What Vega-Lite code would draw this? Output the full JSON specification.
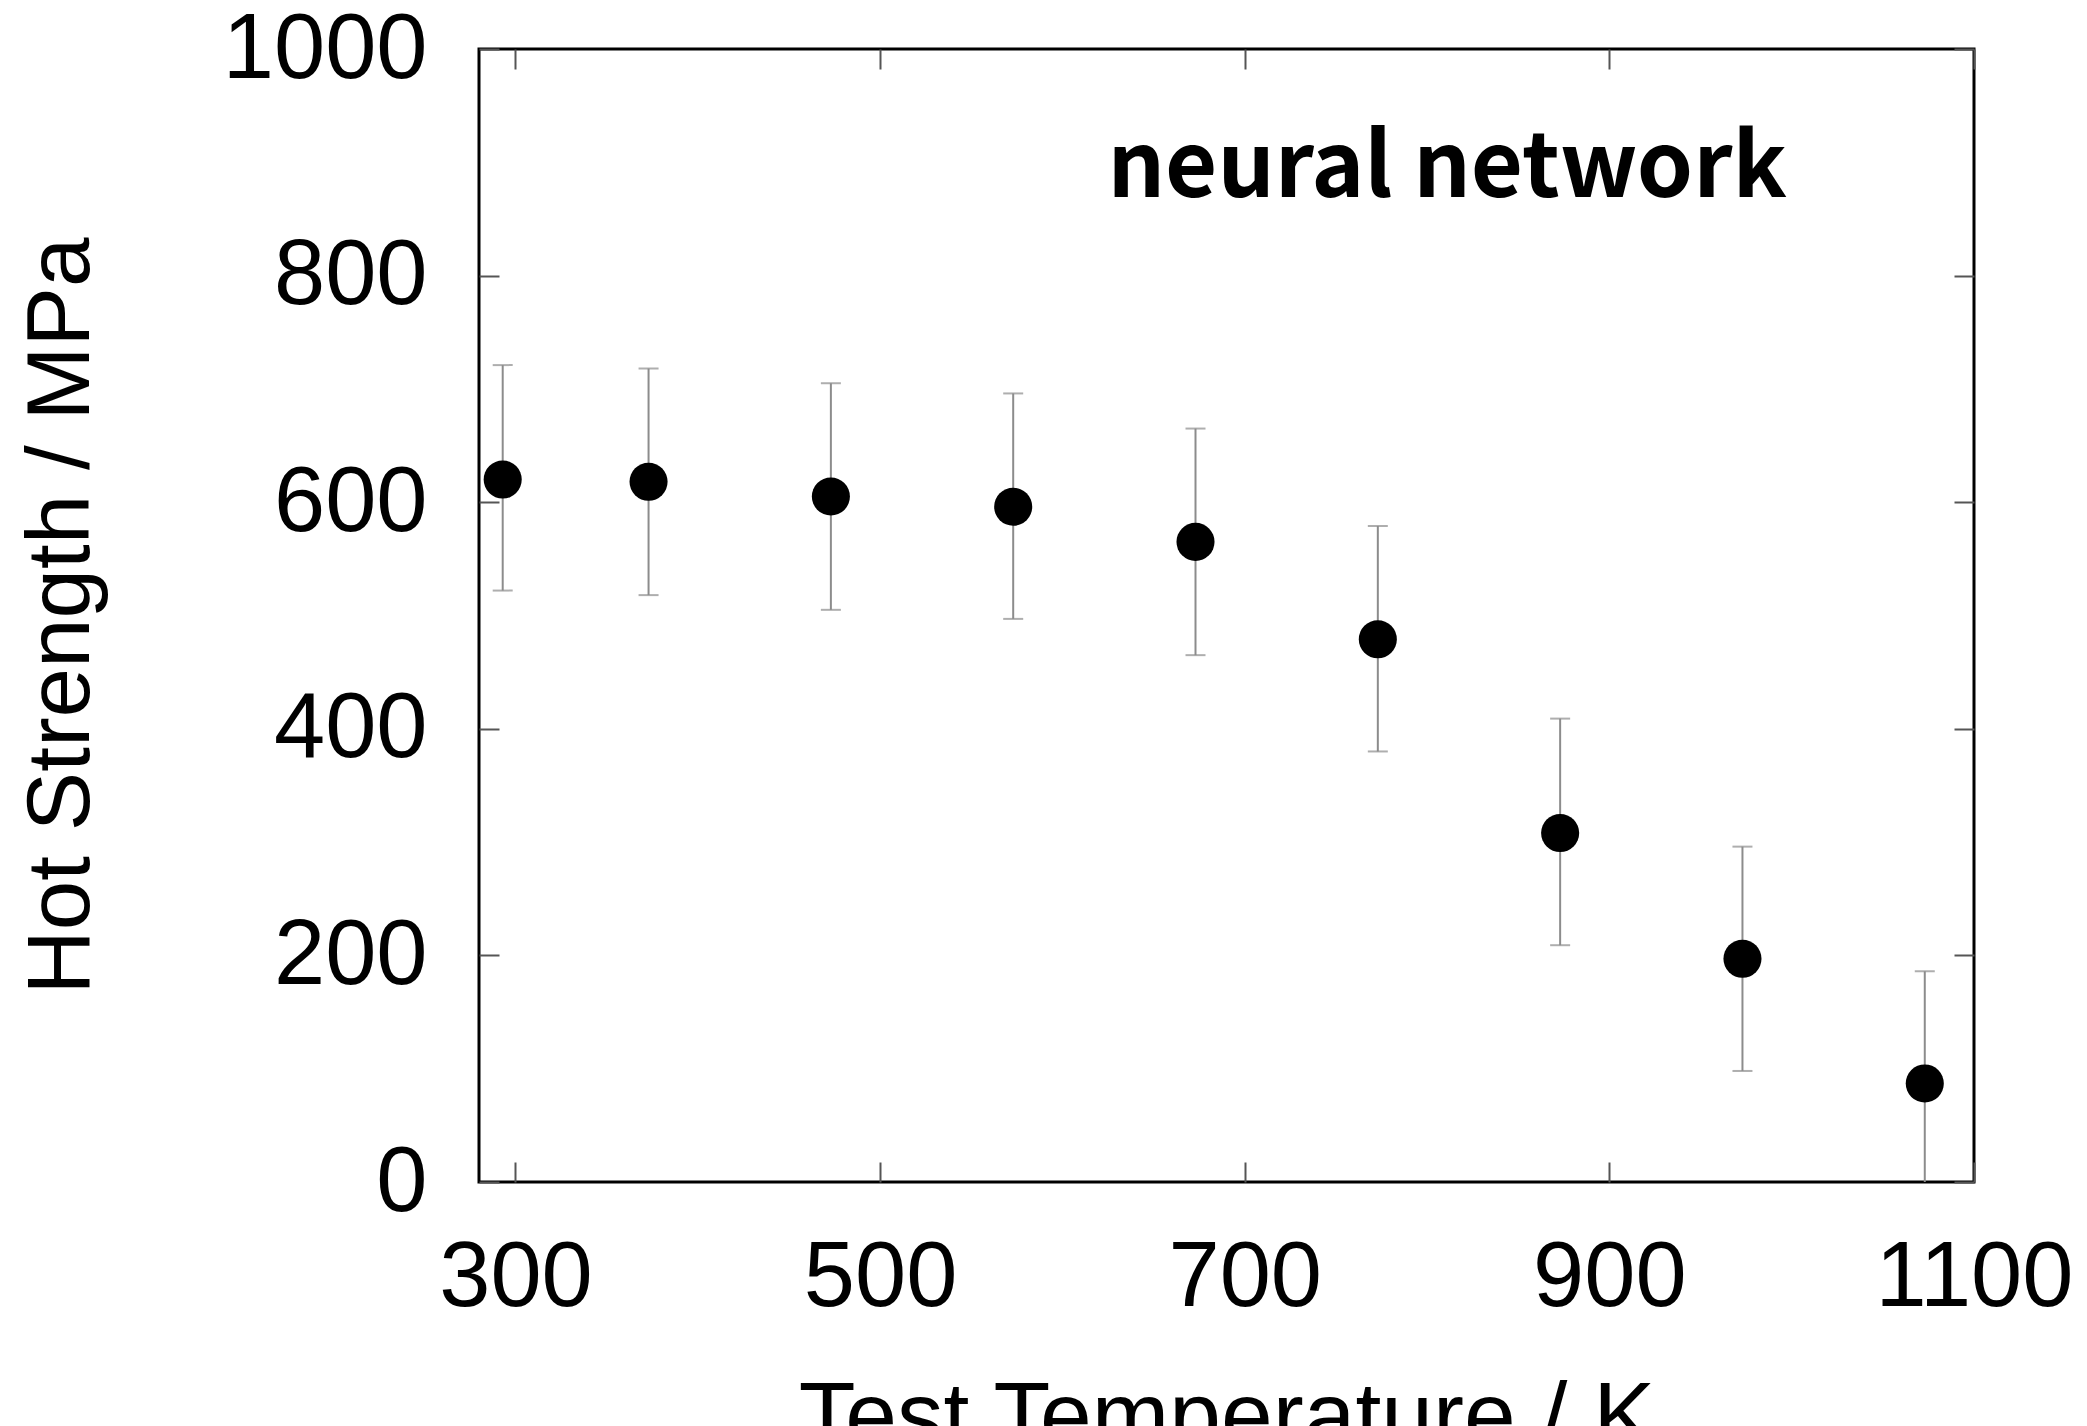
{
  "$schema": "https://vega.github.io/schema/vega-lite/v6.json",
  "width": 1495,
  "height": 1133,
  "autosize": {"type": "none"},
  "padding": {"left": 479, "top": 49, "right": 113, "bottom": 244},
  "background": "white",
  "config": {
    "view": {"stroke": "black", "strokeWidth": 3},
    "font": "Liberation Sans"
  },
  "data": {
    "values": [
      {"T": 293, "S": 620, "lo": 522, "hi": 721},
      {"T": 373, "S": 618, "lo": 518, "hi": 718},
      {"T": 473, "S": 605, "lo": 505, "hi": 705},
      {"T": 573, "S": 596, "lo": 497, "hi": 696},
      {"T": 673, "S": 565, "lo": 465, "hi": 665},
      {"T": 773, "S": 479, "lo": 380, "hi": 579},
      {"T": 873, "S": 308, "lo": 209, "hi": 409},
      {"T": 973, "S": 197, "lo": 98, "hi": 296},
      {"T": 1073, "S": 87, "lo": -13, "hi": 186}
    ]
  },
  "layer": [
    {
      "mark": {"type": "rule", "color": "#8c8c8c", "strokeWidth": 2, "clip": true},
      "encoding": {
        "x": {"field": "T", "type": "quantitative", "scale": {"domain": [280, 1100], "nice": false, "zero": false},
          "axis": {"title": "Test Temperature / K", "values": [300, 500, 700, 900, 1100], "format": "d", "labelLimit": 0, "domain": false, "grid": false,
            "tickSize": -20, "tickColor": "#555555", "tickWidth": 2, "labelFontSize": 92, "labelColor": "black", "labelPadding": 70,
            "titleFontSize": 93, "titleFontWeight": "normal", "titleColor": "black", "titlePadding": 50, "labelFlush": false}},
        "y": {"field": "lo", "type": "quantitative", "scale": {"domain": [0, 1000], "nice": false},
          "axis": {"title": "Hot Strength / MPa", "values": [0, 200, 400, 600, 800, 1000], "format": "d", "labelLimit": 0, "domain": false, "grid": false,
            "tickSize": -20, "tickColor": "#555555", "tickWidth": 2, "labelFontSize": 92, "labelColor": "black", "labelPadding": 72,
            "titleFontSize": 89, "titleFontWeight": "normal", "titleColor": "black", "titlePadding": 172, "labelFlush": false}},
        "y2": {"field": "hi"}
      }
    },
    {
      "mark": {"type": "tick", "color": "#8c8c8c", "thickness": 2, "size": 20, "orient": "horizontal", "clip": true},
      "encoding": {
        "x": {"field": "T", "type": "quantitative", "axis": null},
        "y": {"field": "hi", "type": "quantitative", "axis": null}
      }
    },
    {
      "mark": {"type": "tick", "color": "#8c8c8c", "thickness": 2, "size": 20, "orient": "horizontal", "clip": true},
      "encoding": {
        "x": {"field": "T", "type": "quantitative", "axis": null},
        "y": {"field": "lo", "type": "quantitative", "axis": null}
      }
    },
    {
      "mark": {"type": "point", "filled": true, "color": "black", "opacity": 1, "size": 1450, "shape": "circle"},
      "encoding": {
        "x": {"field": "T", "type": "quantitative", "axis": null},
        "y": {"field": "S", "type": "quantitative", "axis": null}
      }
    },
    {
      "data": {"values": [{"T": 811, "S": 869, "label": "neural network"}]},
      "mark": {"type": "text", "fontSize": 90, "fontWeight": "bold", "font": "Noto Sans CJK JP", "align": "center", "baseline": "alphabetic", "color": "black"},
      "encoding": {
        "x": {"field": "T", "type": "quantitative", "axis": null},
        "y": {"field": "S", "type": "quantitative", "axis": null},
        "text": {"field": "label"}
      }
    },
    {
      "mark": {"type": "point", "opacity": 0},
      "encoding": {
        "x": {"field": "T", "type": "quantitative",
          "axis": {"orient": "top", "title": null, "labels": false, "values": [300, 500, 700, 900, 1100], "domain": false, "grid": false, "tickSize": -20, "tickColor": "#555555", "tickWidth": 2}},
        "y": {"field": "S", "type": "quantitative",
          "axis": {"orient": "right", "title": null, "labels": false, "values": [0, 200, 400, 600, 800, 1000], "domain": false, "grid": false, "tickSize": -20, "tickColor": "#555555", "tickWidth": 2}}
      }
    }
  ],
  "resolve": {"axis": {"x": "independent", "y": "independent"}}
}
